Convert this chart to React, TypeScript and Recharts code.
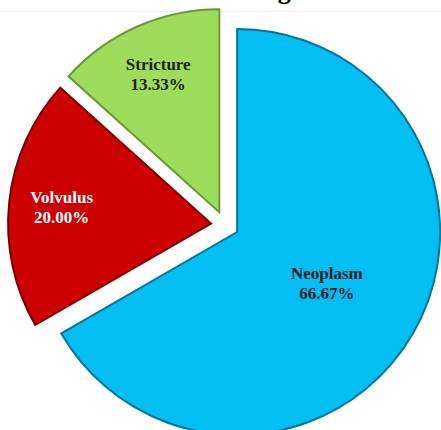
import React from "react";
import { PieChart, Pie, Cell, Sector } from "recharts";

const causes = ["Neoplasm", "Volvulus", "Stricture"];
const percents = [66.67, 20.0, 13.33];
const fills = ["#02BEF2", "#CC0000", "#9EDC5C"];
const edges = ["#04759A", "#7A0000", "#6C9A35"];
const labelColors = ["#0a1a22", "#ffffff", "#1c2410"];

const data = causes.map((name, i) => ({ name, value: percents[i] }));

const RAD = Math.PI / 180;
const EXPLODE = 14;

const shift = (cx: number, cy: number, mid: number, d: number) => ({
    x: cx + d * Math.cos(-mid * RAD),
    y: cy + d * Math.sin(-mid * RAD),
});

const ExplodedSector = (props: any) => {
    const p = shift(props.cx, props.cy, props.midAngle, EXPLODE);
    return <Sector {...props} cx={p.x} cy={p.y} />;
};

const renderLabel = (props: any) => {
    const { cx, cy, midAngle, outerRadius, percent, name, index } = props;
    const c = shift(cx, cy, midAngle, EXPLODE);
    const r = outerRadius * (percent > 0.5 ? 0.51 : 0.74);
    const p = shift(c.x, c.y, midAngle, r);
    return (
        <text
            x={p.x}
            y={p.y}
            textAnchor="middle"
            fill={labelColors[index]}
            fontFamily="'Liberation Serif', serif"
            fontWeight="bold"
            fontSize={17}
        >
            <tspan x={p.x} dy={-5}>{name}</tspan>
            <tspan x={p.x} dy={20}>{percents[index].toFixed(2)}%</tspan>
        </text>
    );
};

export default function App() {
    return (
        <div style={{ position: "absolute", left: 0, top: 0, width: 441, height: 430, background: "#fff" }}>
            <svg width={441} height={430} style={{ position: "absolute", left: 0, top: 0 }}>
                <text x={180} y={-1.5} fontFamily="'Liberation Serif', serif" fontWeight="bold" fontSize={26} fill="#000">
                    Percentage
                </text>
                <line x1={0} x2={441} y1={11.5} y2={11.5} stroke="#efefef" strokeWidth={1} />
            </svg>
            <div style={{ position: "absolute", left: 0, top: 0 }}>
                <PieChart width={441} height={430} margin={{ top: 0, right: 0, bottom: 0, left: 0 }}>
                    <Pie
                        data={data}
                        dataKey="value"
                        nameKey="name"
                        cx={225}
                        cy={225}
                        outerRadius={203}
                        startAngle={90}
                        endAngle={-270}
                        shape={ExplodedSector}
                        label={renderLabel}
                        labelLine={false}
                        isAnimationActive={false}
                    >
                        {data.map((d, i) => (
                            <Cell key={d.name} fill={fills[i]} stroke={edges[i]} strokeWidth={2} />
                        ))}
                    </Pie>
                </PieChart>
            </div>
        </div>
    );
}
